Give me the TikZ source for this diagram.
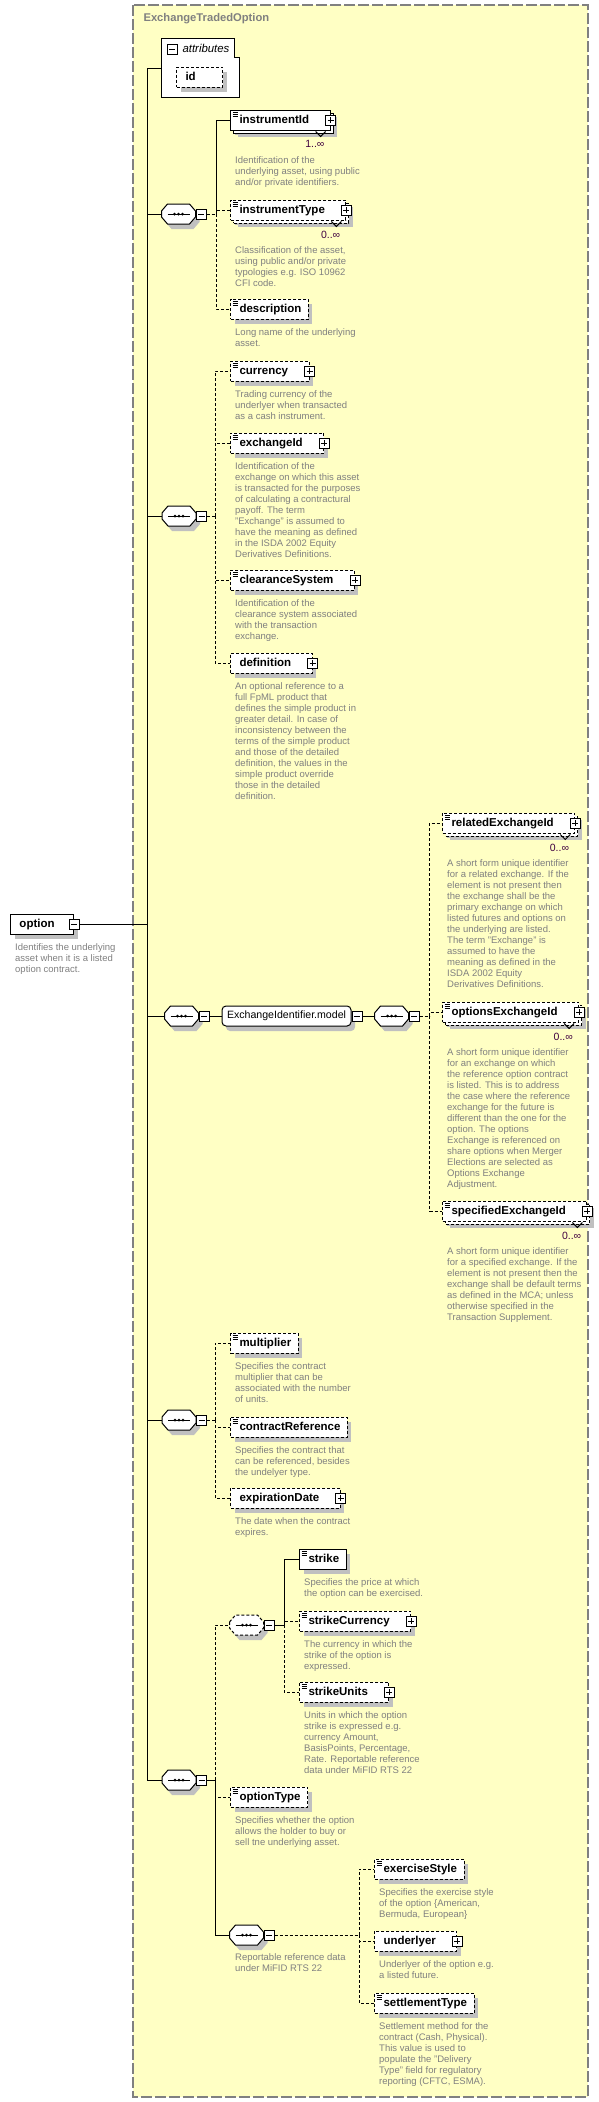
\documentclass[tikz,border=0pt]{standalone}
\usepackage{fontspec}
\setmainfont{Liberation Sans}
\usetikzlibrary{positioning,shadows}

\definecolor{bgyellow}{RGB}{255,255,196}
\definecolor{framegray}{RGB}{128,128,128}
\definecolor{descgray}{RGB}{128,128,128}
\definecolor{shadowgray}{RGB}{192,192,192}
\definecolor{cardcol}{RGB}{64,0,64}

% octagon outline round a sequence node: node, dx, dy
\newcommand{\octpath}[3]{([shift={(-17pt+#2,3pt+#3)}]#1.center) -- ([shift={(-11pt+#2,10pt+#3)}]#1.center)
  -- ([shift={(11pt+#2,10pt+#3)}]#1.center) -- ([shift={(17pt+#2,3pt+#3)}]#1.center)
  -- ([shift={(17pt+#2,-3pt+#3)}]#1.center) -- ([shift={(11pt+#2,-10pt+#3)}]#1.center)
  -- ([shift={(-11pt+#2,-10pt+#3)}]#1.center) -- ([shift={(-17pt+#2,-3pt+#3)}]#1.center) -- cycle}
\newcommand{\seqshape}[2]{%
  \fill[shadowgray] \octpath{#1}{4pt}{-5pt};
  \filldraw[fill=white, line width=1pt, #2] \octpath{#1}{0pt}{0pt};
  \draw[line width=1pt] ([xshift=-11pt]#1.center) -- ([xshift=11pt]#1.center);
  \foreach \d in {-4pt,0pt,4pt} \fill ([xshift=\d]#1.center) circle (1.5pt);}

\begin{document}
\begin{tikzpicture}[x=1pt,y=-1pt,
  conn/.style={line width=1pt},
  opt/.style={line width=1pt, dash pattern=on 3pt off 2pt},
  sh/.style={drop shadow={shadow xshift=4pt, shadow yshift=-5pt, fill=shadowgray, opacity=1}},
  elem/.style={draw, fill=white, line width=1pt, anchor=west, minimum height=20pt,
    inner sep=0pt, text height=8.5pt, text depth=2.5pt,
    font=\fontsize{11.5}{13}\selectfont\bfseries,
    execute at begin node=\hspace*{9pt}, execute at end node=\hspace*{7pt}, sh},
  optel/.style={elem, dash pattern=on 3pt off 2pt},
  multi/.style={drop shadow={shadow xshift=7pt, shadow yshift=-7pt, fill=shadowgray, opacity=1},
    copy shadow={shadow xshift=3pt, shadow yshift=-3pt, fill=white, draw=black}},
  plusbox/.style={draw, solid, fill=white, line width=0.8pt, minimum size=10pt, inner sep=0pt,
    path picture={\draw[solid,line width=0.8pt]
      ([xshift=2pt]path picture bounding box.west) -- ([xshift=-2pt]path picture bounding box.east)
      ([yshift=-2pt]path picture bounding box.north) -- ([yshift=2pt]path picture bounding box.south);}},
  minusbox/.style={draw, solid, fill=white, line width=0.8pt, minimum size=10pt, inner sep=0pt,
    path picture={\draw[solid,line width=0.8pt]
      ([xshift=2pt]path picture bounding box.west) -- ([xshift=-2pt]path picture bounding box.east);}},
  plus/.style={execute at end node=\hspace*{14pt},
    append after command={\pgfextra{\let\mainnode=\tikzlastnode} node[plusbox] at (\mainnode.east) {}}},
  doc/.style={path picture={\foreach \k in {2.5pt,4.5pt,6.5pt}
      \draw[solid,line width=0.7pt] ([xshift=2pt,yshift=-\k]path picture bounding box.north west) -- ++(5pt,0pt);}},
  seq/.style={rectangle, minimum width=34pt, minimum height=20pt, inner sep=0pt,
    append after command={\pgfextra{\seqshape{\tikzlastnode}{#1}}}},
  seq/.default=solid,
  group/.style={draw, fill=white, line width=1pt, rounded corners=4pt, minimum height=20pt,
    inner xsep=5pt, inner ysep=0pt, text height=8pt, text depth=2.5pt, font=\fontsize{10.6}{12}\selectfont, sh},
  desc/.style={font=\fontsize{9.5}{11}\selectfont, text=descgray, align=left, inner sep=0pt},
  card/.style={font=\fontsize{10.5}{12}\selectfont, text=cardcol, inner sep=0pt}]

  \useasboundingbox (0,0) rectangle (599,2102);
  % complex type frame
  \draw[draw=framegray, fill=bgyellow, line width=1.2pt, dash pattern=on 11pt off 3pt] (133,5) rectangle (588,2097);
  \node[anchor=west, font=\fontsize{11.2}{13}\selectfont\bfseries, text=framegray] (title) at (140,19) {ExchangeTradedOption};

  % attributes
  \draw[fill=white, line width=1pt] (161,38) -- (234,38) -- (234,57) -- (239,57) -- (239,97) -- (161,97) -- cycle;
  \coordinate (attr) at (161,68);
  \node[minusbox] (attrm) at (172,49) {};
  \node[anchor=west, font=\fontsize{11.4}{13}\selectfont\itshape] (attrlabel) at (179,48) {attributes};
  \node[optel] (id) at (176,77) {id\hspace*{20pt}};

  % spine
  \coordinate (mtop) at (147,68);
  \coordinate (mbot) at (147,1780);
  \draw[conn] (mtop) -- (mbot);
  \draw[conn] (mtop) -- (attr);

  % root element
  \node[elem, execute at end node=\hspace*{12pt}] (option) at (10,924) {option};
  \node[minusbox] (optionm) at (option.east) {};
  \node[desc, below right=8.5pt and 5pt of option.south west] (optiond) {Identifies the underlying\\asset when it is a listed\\option contract.};
  \draw[conn] (optionm.east) -- (optionm.east -| mtop);

  % sequence 1
  \node[seq] (s1) at (178.5,214) {};
  \node[minusbox, right=0pt of s1] (s1m) {};
  \coordinate (j1) at (216,214);
  \draw[conn] (s1.west -| mtop) -- (s1.west);
  \draw[opt] (s1m.east) -- (j1);

  \node[elem, multi, doc, plus] (instrumentId) at (230,120) {instrumentId};
  \node[card, below left=10pt and 6pt of instrumentId.south east] (instrumentIdc) {1..∞};
  \draw[conn] ([xshift=-15pt,yshift=-1pt]instrumentId.south east) -- ++(5pt,-5pt) -- ++(5pt,5pt);
  \node[desc, below right=25.5pt and 5pt of instrumentId.south west] (instrumentIdd) {Identification of the\\underlying asset, using public\\and/or private identifiers.};

  \node[optel, multi, doc, plus] (instrumentType) at (230,210) {instrumentType};
  \node[card, below left=10pt and 6pt of instrumentType.south east] (instrumentTypec) {0..∞};
  \draw[conn] ([xshift=-15pt,yshift=-1pt]instrumentType.south east) -- ++(5pt,-5pt) -- ++(5pt,5pt);
  \node[desc, below right=25.5pt and 5pt of instrumentType.south west] (instrumentTyped) {Classification of the asset,\\using public and/or private\\typologies e.g. ISO 10962\\CFI code.};

  \node[optel, doc] (description) at (230,309) {description};
  \node[desc, below right=8.5pt and 5pt of description.south west] (descriptiond) {Long name of the underlying\\asset.};

  \draw[conn] (j1) |- (instrumentId.west);
  \draw[opt] (j1) |- (instrumentType.west);
  \draw[opt] (j1) |- (description.west);

  % sequence 2
  \node[seq] (s2) at (179,516) {};
  \node[minusbox, right=0pt of s2] (s2m) {};
  \coordinate (j2) at (215,516);
  \draw[conn] (s2.west -| mtop) -- (s2.west);
  \draw[opt] (s2m.east) -- (j2);

  \node[optel, doc, plus] (currency) at (230,371) {currency};
  \node[desc, below right=8.5pt and 5pt of currency.south west] (currencyd) {Trading currency of the\\underlyer when transacted\\as a cash instrument.};

  \node[optel, doc, plus] (exchangeId) at (230,443) {exchangeId};
  \node[desc, below right=8.5pt and 5pt of exchangeId.south west] (exchangeIdd) {Identification of the\\exchange on which this asset\\is transacted for the purposes\\of calculating a contractural\\payoff. The term\\"Exchange" is assumed to\\have the meaning as defined\\in the ISDA 2002 Equity\\Derivatives Definitions.};

  \node[optel, doc, plus] (clearanceSystem) at (230,580) {clearanceSystem};
  \node[desc, below right=8.5pt and 5pt of clearanceSystem.south west] (clearanceSystemd) {Identification of the\\clearance system associated\\with the transaction\\exchange.};

  \node[optel, plus] (definition) at (230,663) {definition};
  \node[desc, below right=8.5pt and 5pt of definition.south west] (definitiond) {An optional reference to a\\full FpML product that\\defines the simple product in\\greater detail. In case of\\inconsistency between the\\terms of the simple product\\and those of the detailed\\definition, the values in the\\simple product override\\those in the detailed\\definition.};

  \draw[opt] (j2) |- (currency.west);
  \draw[opt] (j2) |- (exchangeId.west);
  \draw[opt] (j2) |- (clearanceSystem.west);
  \draw[opt] (j2) |- (definition.west);

  % sequence 3 with model group
  \node[seq] (s3a) at (181.5,1016) {};
  \node[minusbox, right=0pt of s3a] (s3am) {};
  \node[group, right=12pt of s3am] (exmodel) {ExchangeIdentifier.model};
  \node[minusbox, right=0pt of exmodel] (exmodelm) {};
  \node[seq, right=12pt of exmodelm] (s3b) {};
  \node[minusbox, right=0pt of s3b] (s3bm) {};
  \coordinate (j3) at ([xshift=10pt]s3bm.east);
  \draw[conn] (s3a.west -| mtop) -- (s3a.west);
  \draw[conn] (s3am.east) -- (exmodel.west);
  \draw[conn] (exmodelm.east) -- (s3b.west);
  \draw[opt] (s3bm.east) -- (j3);

  \node[optel, multi, doc, plus] (relatedExchangeId) at (442,823) {relatedExchangeId};
  \node[card, below left=10pt and 6pt of relatedExchangeId.south east] (relatedExchangeIdc) {0..∞};
  \draw[conn] ([xshift=-15pt,yshift=-1pt]relatedExchangeId.south east) -- ++(5pt,-5pt) -- ++(5pt,5pt);
  \node[desc, below right=25.5pt and 5pt of relatedExchangeId.south west] (relatedExchangeIdd) {A short form unique identifier\\for a related exchange. If the\\element is not present then\\the exchange shall be the\\primary exchange on which\\listed futures and options on\\the underlying are listed.\\The term "Exchange" is\\assumed to have the\\meaning as defined in the\\ISDA 2002 Equity\\Derivatives Definitions.};

  \node[optel, multi, doc, plus] (optionsExchangeId) at (442,1012) {optionsExchangeId};
  \node[card, below left=10pt and 6pt of optionsExchangeId.south east] (optionsExchangeIdc) {0..∞};
  \draw[conn] ([xshift=-15pt,yshift=-1pt]optionsExchangeId.south east) -- ++(5pt,-5pt) -- ++(5pt,5pt);
  \node[desc, below right=25.5pt and 5pt of optionsExchangeId.south west] (optionsExchangeIdd) {A short form unique identifier\\for an exchange on which\\the reference option contract\\is listed. This is to address\\the case where the reference\\exchange for the future is\\different than the one for the\\option. The options\\Exchange is referenced on\\share options when Merger\\Elections are selected as\\Options Exchange\\Adjustment.};

  \node[optel, multi, doc, plus] (specifiedExchangeId) at (442,1211) {specifiedExchangeId};
  \node[card, below left=10pt and 6pt of specifiedExchangeId.south east] (specifiedExchangeIdc) {0..∞};
  \draw[conn] ([xshift=-15pt,yshift=-1pt]specifiedExchangeId.south east) -- ++(5pt,-5pt) -- ++(5pt,5pt);
  \node[desc, below right=25.5pt and 5pt of specifiedExchangeId.south west] (specifiedExchangeIdd) {A short form unique identifier\\for a specified exchange. If the\\element is not present then the\\exchange shall be default terms\\as defined in the MCA; unless\\otherwise specified in the\\Transaction Supplement.};

  \draw[opt] (j3) |- (relatedExchangeId.west);
  \draw[opt] (j3) |- (optionsExchangeId.west);
  \draw[opt] (j3) |- (specifiedExchangeId.west);

  % sequence 4
  \node[seq] (s4) at (179,1420) {};
  \node[minusbox, right=0pt of s4] (s4m) {};
  \coordinate (j4) at (215,1420);
  \draw[conn] (s4.west -| mtop) -- (s4.west);
  \draw[opt] (s4m.east) -- (j4);

  \node[optel, doc] (multiplier) at (230,1343) {multiplier};
  \node[desc, below right=8.5pt and 5pt of multiplier.south west] (multiplierd) {Specifies the contract\\multiplier that can be\\associated with the number\\of units.};

  \node[optel, doc] (contractReference) at (230,1427) {contractReference};
  \node[desc, below right=8.5pt and 5pt of contractReference.south west] (contractReferenced) {Specifies the contract that\\can be referenced, besides\\the undelyer type.};

  \node[optel, plus] (expirationDate) at (230,1498) {expirationDate};
  \node[desc, below right=8.5pt and 5pt of expirationDate.south west] (expirationDated) {The date when the contract\\expires.};

  \draw[opt] (j4) |- (multiplier.west);
  \draw[opt] (j4) |- (contractReference.west);
  \draw[opt] (j4) |- (expirationDate.west);

  % sequence 5
  \node[seq] (s5) at (179,1780) {};
  \node[minusbox, right=0pt of s5] (s5m) {};
  \coordinate (j5) at (215,1780);
  \draw[conn] (s5.west -| mtop) -- (s5.west);
  \draw[conn] (s5m.east) -- (j5);

  % strike sequence
  \node[seq={dash pattern=on 3pt off 2pt}] (sA) at (246.5,1625) {};
  \node[minusbox, right=0pt of sA] (sAm) {};
  \coordinate (jA) at (284,1625);
  \draw[conn] (sAm.east) -- (jA);

  \node[elem, doc] (strike) at (299,1559) {strike};
  \node[desc, below right=8.5pt and 5pt of strike.south west] (striked) {Specifies the price at which\\the option can be exercised.};

  \node[optel, doc, plus] (strikeCurrency) at (299,1621) {strikeCurrency};
  \node[desc, below right=8.5pt and 5pt of strikeCurrency.south west] (strikeCurrencyd) {The currency in which the\\strike of the option is\\expressed.};

  \node[optel, doc, plus] (strikeUnits) at (299,1692) {strikeUnits};
  \node[desc, below right=8.5pt and 5pt of strikeUnits.south west] (strikeUnitsd) {Units in which the option\\strike is expressed e.g.\\currency Amount,\\BasisPoints, Percentage,\\Rate. Reportable reference\\data under MiFID RTS 22};

  \draw[conn] (jA) |- (strike.west);
  \draw[opt] (jA) |- (strikeCurrency.west);
  \draw[opt] (jA) |- (strikeUnits.west);

  \node[optel, doc] (optionType) at (230,1797) {optionType};
  \node[desc, below right=8.5pt and 5pt of optionType.south west] (optionTyped) {Specifies whether the option\\allows the holder to buy or\\sell tne underlying asset.};

  % reportable data sequence
  \node[seq] (sB) at (246.5,1935) {};
  \node[minusbox, right=0pt of sB] (sBm) {};
  \coordinate (jB) at (359,1935);
  \node[desc, anchor=north west] (sBd) at (235,1953) {Reportable reference data\\under MiFID RTS 22};
  \draw[opt] (sBm.east) -- (jB);

  \node[optel, doc] (exerciseStyle) at (374,1869) {exerciseStyle};
  \node[desc, below right=8.5pt and 5pt of exerciseStyle.south west] (exerciseStyled) {Specifies the exercise style\\of the option \{American,\\Bermuda, European\}};

  \node[optel, plus] (underlyer) at (374,1941) {underlyer};
  \node[desc, below right=8.5pt and 5pt of underlyer.south west] (underlyerd) {Underlyer of the option e.g.\\a listed future.};

  \node[optel, doc] (settlementType) at (374,2003) {settlementType};
  \node[desc, below right=8.5pt and 5pt of settlementType.south west] (settlementTyped) {Settlement method for the\\contract (Cash, Physical).\\This value is used to\\populate the "Delivery\\Type" field for regulatory\\reporting (CFTC, ESMA).};

  \draw[opt] (jB) |- (exerciseStyle.west);
  \draw[opt] (jB) |- (underlyer.west);
  \draw[opt] (jB) |- (settlementType.west);

  \draw[opt] (j5) |- (sA.west);
  \draw[opt] (j5) |- (optionType.west);
  \draw[conn] (j5) |- (sB.west);
\end{tikzpicture}
\end{document}
